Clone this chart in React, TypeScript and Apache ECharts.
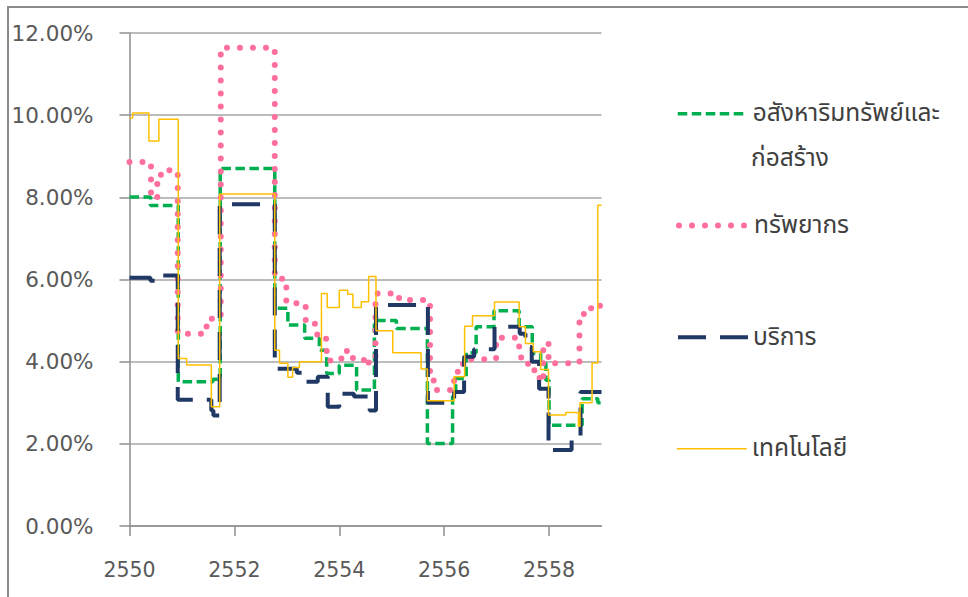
import React, { useEffect, useRef } from 'react';
import * as echarts from 'echarts';

// Sector names
const realEstateName = 'อสังหาริมทรัพย์และก่อสร้าง';
const resourcesName = 'ทรัพยากร';
const servicesName = 'บริการ';
const techName = 'เทคโนโลยี';

// [year (B.E.), rate %] at each change of level; the last pair closes the final step
const realEstate: [number, number][] = [
  [2550.0, 8.01], [2550.4, 7.8], [2550.93, 3.51], [2551.59, 3.57], [2551.73, 8.7],
  [2552.77, 5.3], [2553.02, 4.89], [2553.34, 4.57], [2553.62, 4.28], [2553.76, 3.71],
  [2554.0, 3.91], [2554.33, 3.31], [2554.67, 5.0], [2555.09, 4.81], [2555.68, 2.01],
  [2556.16, 3.15], [2556.22, 3.59], [2556.42, 4.22], [2556.61, 4.85], [2556.95, 5.24],
  [2557.43, 4.85], [2557.68, 4.2], [2557.84, 3.96], [2557.94, 3.55], [2558.0, 2.45],
  [2558.63, 3.1], [2558.93, 3.0], [2559.0, 3.0],
];

const resources: [number, number][] = [
  [2550.0, 8.86], [2550.41, 7.98], [2550.53, 8.55], [2550.69, 8.66], [2550.92, 4.68],
  [2551.47, 5.0], [2551.57, 5.09], [2551.74, 11.64], [2552.77, 6.02], [2552.99, 5.42],
  [2553.36, 4.92], [2553.58, 4.56], [2553.76, 4.03], [2554.04, 4.26], [2554.26, 4.07],
  [2554.47, 3.91], [2554.56, 4.1], [2554.69, 5.66], [2554.98, 5.58], [2555.14, 5.5],
  [2555.73, 3.67], [2555.8, 3.31], [2556.19, 3.6], [2556.26, 3.88], [2556.36, 4.06],
  [2556.99, 4.58], [2557.43, 4.1], [2557.6, 3.83], [2557.72, 3.63], [2557.82, 3.51],
  [2557.89, 4.45], [2557.99, 3.96], [2558.58, 5.16], [2558.7, 5.3], [2558.88, 5.38],
  [2558.97, 5.17], [2559.0, 5.17],
];

const services: [number, number][] = [
  [2550.0, 6.04], [2550.4, 5.97], [2550.55, 6.1], [2550.92, 3.07], [2551.56, 2.81],
  [2551.6, 2.69], [2551.72, 7.83], [2552.77, 3.83], [2553.19, 3.73], [2553.36, 3.51],
  [2553.59, 3.63], [2553.78, 2.9], [2554.0, 3.22], [2554.28, 3.15], [2554.58, 2.81],
  [2554.7, 5.38], [2555.69, 3.0], [2556.19, 3.26], [2556.38, 4.12], [2556.57, 4.3],
  [2556.96, 4.85], [2557.44, 4.68], [2557.55, 4.36], [2557.67, 4.0], [2557.81, 3.34],
  [2557.99, 1.85], [2558.43, 2.2], [2558.6, 3.26], [2559.0, 3.26],
];

const tech: [number, number][] = [
  [2550.0, 9.93], [2550.06, 10.05], [2550.37, 9.37], [2550.56, 9.9], [2550.93, 4.08],
  [2551.09, 3.92], [2551.56, 2.9], [2551.72, 8.08], [2552.77, 4.28], [2552.86, 3.96],
  [2553.02, 3.62], [2553.11, 3.86], [2553.24, 4.0], [2553.66, 5.66], [2553.77, 5.32],
  [2554.0, 5.74], [2554.16, 5.64], [2554.26, 5.32], [2554.42, 5.46], [2554.56, 6.07],
  [2554.7, 4.75], [2555.02, 4.22], [2555.56, 3.82], [2555.68, 3.05], [2556.19, 3.63],
  [2556.39, 4.86], [2556.54, 5.12], [2556.96, 5.45], [2557.43, 4.85], [2557.55, 4.44],
  [2557.7, 4.24], [2557.84, 3.81], [2557.99, 2.7], [2558.32, 2.76], [2558.56, 2.43],
  [2558.59, 3.0], [2558.82, 3.97], [2558.93, 7.81], [2559.0, 7.81],
];

const yearTicks = [2550, 2552, 2554, 2556, 2558];

const numFont = '"DejaVu Sans", sans-serif';
const thaiFont = '"Noto Sans Thai", "Noto Sans", "DejaVu Sans", sans-serif';
const legendFontSize = 24.5;

// Legend rows are taller than the icon because of the Thai text, so lift each row
const legendRowLift = 12;

const legendBase = (name: string, iconY: number, width: number, formatter?: string) => ({
  data: [name],
  left: 676,
  top: iconY - legendRowLift,
  padding: 0,
  itemWidth: 70,
  itemHeight: 14,
  selectedMode: false,
  itemStyle: { opacity: 0, borderWidth: 0 },
  lineStyle: { width },
  textStyle: { fontSize: legendFontSize, color: '#404040', fontFamily: thaiFont },
  ...(formatter ? { formatter: () => formatter } : {}),
});

export default function App() {
  const ref = useRef<HTMLDivElement>(null);

  useEffect(() => {
    const chart = echarts.init(ref.current!, null, { renderer: 'svg' });
    chart.setOption({
      animation: false,
      backgroundColor: '#ffffff',
      grid: { left: 129.5, right: 366.5, top: 33, bottom: 71, containLabel: false },
      xAxis: {
        type: 'value',
        min: 2550,
        max: 2559,
        interval: 2,
        splitLine: { show: false },
        axisLine: { show: true, lineStyle: { color: '#8f8f8f', width: 1.5 } },
        axisTick: { show: true, length: 10, customValues: yearTicks, lineStyle: { color: '#8f8f8f', width: 1.5 } },
        axisLabel: {
          customValues: yearTicks,
          margin: 33,
          fontSize: 20.5,
          color: '#595959',
          fontFamily: numFont,
          formatter: (v: number) => String(v),
        },
      },
      yAxis: {
        type: 'value',
        min: 0,
        max: 12,
        interval: 2,
        axisLine: { show: true, lineStyle: { color: '#8f8f8f', width: 1.5 } },
        axisTick: { show: true, length: 10, lineStyle: { color: '#8f8f8f', width: 1.5 } },
        splitLine: { show: true, lineStyle: { color: '#a6a6a6', width: 1.5 } },
        axisLabel: {
          margin: 36,
          fontSize: 21.5,
          color: '#595959',
          fontFamily: numFont,
          formatter: (v: number) => v.toFixed(2) + '%',
        },
      },
      legend: [
        legendBase(realEstateName, 113.3, 3.5, 'อสังหาริมทรัพย์และ'),
        legendBase(resourcesName, 225, 6),
        legendBase(servicesName, 336.7, 4),
        legendBase(techName, 448.3, 1.5),
      ],
      graphic: [
        {
          type: 'rect',
          shape: { x: 8, y: 7, width: 1100, height: 700 },
          style: { fill: 'none', stroke: '#8a8a8a', lineWidth: 2 },
          silent: true,
        },
        {
          type: 'text',
          x: 751,
          y: 158,
          style: {
            text: 'ก่อสร้าง',
            fontSize: legendFontSize,
            fill: '#404040',
            fontFamily: thaiFont,
            verticalAlign: 'middle',
          },
          silent: true,
        },
      ],
      series: [
        {
          name: realEstateName,
          type: 'line',
          step: 'end',
          symbol: 'none',
          data: realEstate,
          lineStyle: { color: '#00B050', width: 3.5, type: [9.5, 4.5], cap: 'butt' },
          itemStyle: { color: '#00B050' },
        },
        {
          name: resourcesName,
          type: 'line',
          step: 'end',
          symbol: 'none',
          data: resources,
          lineStyle: { color: '#FF6F9C', width: 6, type: [0, 13], cap: 'round' },
          itemStyle: { color: '#FF6F9C' },
        },
        {
          name: servicesName,
          type: 'line',
          step: 'end',
          symbol: 'none',
          data: services,
          lineStyle: { color: '#1F3864', width: 4, type: [28, 14], cap: 'butt' },
          itemStyle: { color: '#1F3864' },
        },
        {
          name: techName,
          type: 'line',
          step: 'end',
          symbol: 'none',
          data: tech,
          lineStyle: { color: '#FFC000', width: 1.5, type: 'solid' },
          itemStyle: { color: '#FFC000' },
        },
      ],
    });
    return () => chart.dispose();
  }, []);

  return (
    <div
      ref={ref}
      style={{ position: 'fixed', left: 0, top: 0, width: 968, height: 597, background: '#ffffff' }}
    />
  );
}
